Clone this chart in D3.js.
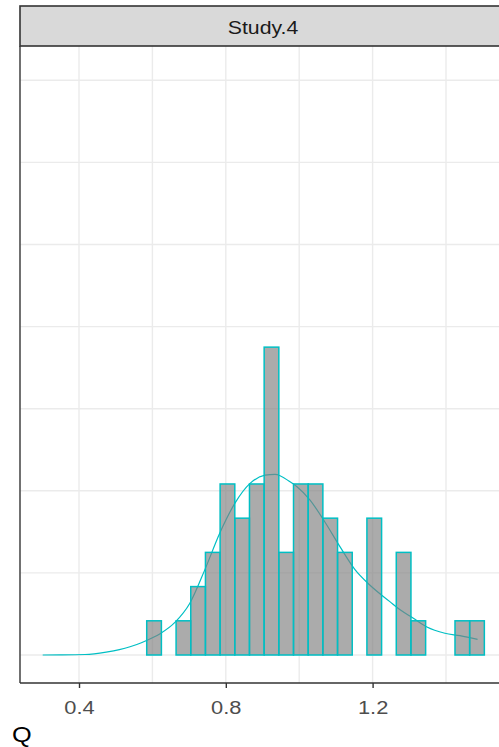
<!DOCTYPE html>
<html>
<head>
<meta charset="utf-8">
<script src="https://cdn.jsdelivr.net/npm/d3@7/dist/d3.min.js"></script>
<style>
  html, body { margin: 0; padding: 0; background: #fff; }
  svg { display: block; }
  text { font-family: "Liberation Sans", Arial, sans-serif; }
</style>
</head>
<body>
<svg id="chart" width="499" height="747"></svg>
<script>
// Facet title
const facetLabel = "Study.4";
const xTitle = "Q";

// Histogram bins (lower edges) and counts
const binWidth = 0.04;
const binX0 = [0.3045, 0.3445, 0.3845, 0.4245, 0.4645, 0.5045, 0.5445, 0.5845, 0.6245, 0.6645,
               0.7045, 0.7445, 0.7845, 0.8245, 0.8645, 0.9045, 0.9445, 0.9845, 1.0245, 1.0645,
               1.1045, 1.1445, 1.1845, 1.2245, 1.2645, 1.3045, 1.3445, 1.3845, 1.4245, 1.4645];
const counts = [0, 0, 0, 0, 0, 0, 0, 1, 0, 1,
                2, 3, 5, 4, 5, 9, 3, 5, 5, 4,
                3, 0, 4, 0, 3, 1, 0, 0, 1, 1];

// Kernel density estimate of Q
const densityX = [0.301, 0.350, 0.416, 0.474, 0.510, 0.539, 0.570, 0.600, 0.621, 0.662,
                  0.702, 0.743, 0.784, 0.825, 0.866, 0.907, 0.934, 0.975, 0.994, 1.029,
                  1.070, 1.111, 1.152, 1.193, 1.247, 1.275, 1.310, 1.348, 1.397, 1.438, 1.486];
const densityY = [0.000, 0.001, 0.006, 0.035, 0.065, 0.100, 0.150, 0.210, 0.260, 0.400,
                  0.630, 1.040, 1.490, 1.850, 2.090, 2.190, 2.200, 2.110, 2.050, 1.890,
                  1.620, 1.320, 1.040, 0.850, 0.650, 0.550, 0.450, 0.340, 0.265, 0.235, 0.190];

// Axis breaks
const xMajor = [0.4, 0.8, 1.2];
const xMinor = [0.6, 1.0, 1.4];
const yGrid = [0, 1, 2, 3, 4, 5, 6, 7];

const svg = d3.select("#chart");
const panel = { left: 20, right: 506, top: 46, bottom: 683 };
const strip = { top: 6, bottom: 46 };

const x = d3.scaleLinear().domain([0.2392, 1.5635]).range([panel.left, panel.right]);
const y = d3.scaleLinear().domain([-0.341, 7.418]).range([panel.bottom, panel.top]);

const total = d3.sum(counts);
const bins = binX0.map((x0, i) => ({ x0, x1: x0 + binWidth, density: counts[i] / (total * binWidth) }));

// Panel background and grid
svg.append("rect")
  .attr("x", panel.left).attr("y", panel.top)
  .attr("width", panel.right - panel.left).attr("height", panel.bottom - panel.top)
  .attr("fill", "#ffffff");

const grid = svg.append("g").attr("stroke", "#EBEBEB").attr("fill", "none");
grid.selectAll("line.h").data(yGrid).join("line")
  .attr("class", "h")
  .attr("x1", panel.left).attr("x2", panel.right)
  .attr("y1", d => y(d)).attr("y2", d => y(d))
  .attr("stroke-width", 1.4);
grid.selectAll("line.v").data(xMajor.concat(xMinor)).join("line")
  .attr("class", "v")
  .attr("y1", panel.top).attr("y2", panel.bottom)
  .attr("x1", d => x(d)).attr("x2", d => x(d))
  .attr("stroke-width", 1.4);

// Density curve (beneath the translucent bars)
const line = d3.line().x(d => x(d[0])).y(d => y(d[1])).curve(d3.curveMonotoneX);
svg.append("path")
  .datum(densityX.map((v, i) => [v, densityY[i]]))
  .attr("d", line)
  .attr("fill", "none")
  .attr("stroke", "#00BFC4")
  .attr("stroke-width", 1.2);

// Histogram bars
svg.append("g").selectAll("rect").data(bins).join("rect")
  .attr("x", d => x(d.x0))
  .attr("width", d => x(d.x1) - x(d.x0))
  .attr("y", d => y(d.density))
  .attr("height", d => y(0) - y(d.density))
  .attr("fill", "#7F7F7F")
  .attr("fill-opacity", 0.66)
  .attr("stroke", "#00BFC4")
  .attr("stroke-width", 1.5);

// Axis lines
svg.append("line")
  .attr("x1", panel.left).attr("x2", panel.left)
  .attr("y1", panel.top).attr("y2", panel.bottom)
  .attr("stroke", "#4D4D4D").attr("stroke-width", 1.6);

const xAxis = d3.axisBottom(x).tickValues(xMajor).tickSize(5).tickSizeOuter(0)
  .tickFormat(d3.format(".1f"));
const gx = svg.append("g").attr("transform", `translate(0,${panel.bottom})`).call(xAxis);
gx.select(".domain").attr("stroke", "#333333").attr("stroke-width", 1.4)
  .attr("d", `M${panel.left},0H${panel.right}`);
gx.selectAll(".tick line").attr("stroke", "#333333").attr("stroke-width", 1.4);
gx.selectAll(".tick text")
  .attr("y", 0).attr("dy", 0)
  .attr("transform", "translate(0,31) scale(1.15,1)")
  .attr("fill", "#4D4D4D")
  .style("font-size", "19px")
  .style("font-family", "'Liberation Sans', Arial, sans-serif");

// Facet strip
svg.append("rect")
  .attr("x", panel.left).attr("y", strip.top)
  .attr("width", panel.right - panel.left).attr("height", strip.bottom - strip.top)
  .attr("fill", "#D9D9D9")
  .attr("stroke", "#333333").attr("stroke-width", 1.6);
svg.append("text")
  .attr("transform", `translate(${(panel.left + panel.right) / 2},${33.5}) scale(1.15,1)`)
  .attr("text-anchor", "middle")
  .attr("fill", "#1A1A1A")
  .style("font-size", "18.5px")
  .text(facetLabel);

// Axis title
svg.append("text")
  .attr("transform", "translate(12,742) scale(1.15,1)")
  .attr("fill", "#000000")
  .style("font-size", "22px")
  .text(xTitle);
</script>
</body>
</html>
